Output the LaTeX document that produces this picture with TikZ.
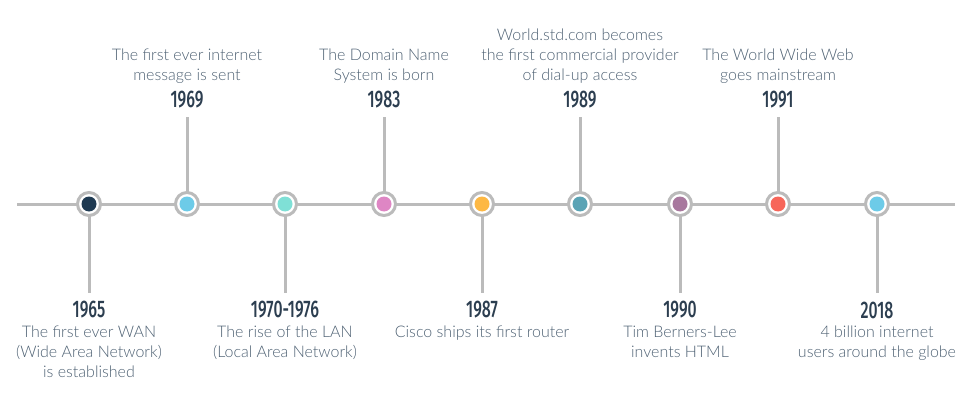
\documentclass[tikz,border=0pt]{standalone}
\usepackage{fontspec}
\newfontfamily\descfont{Lato Light}
\newfontfamily\yearfont[FakeStretch=0.66]{Fira Sans Medium}
\definecolor{tlgray}{HTML}{BBBBBB}
\definecolor{desccol}{HTML}{4E6173}
\definecolor{yearcol}{HTML}{2C3E50}
\definecolor{c1965}{HTML}{1F3A52}
\definecolor{c1969}{HTML}{6DCBE8}
\definecolor{c1970}{HTML}{7FE0D6}
\definecolor{c1983}{HTML}{DE86C4}
\definecolor{c1987}{HTML}{FDB844}
\definecolor{c1989}{HTML}{5AA3B5}
\definecolor{c1990}{HTML}{A8789E}
\definecolor{c1991}{HTML}{F7665A}
\definecolor{c2018}{HTML}{6DCBE8}
\tikzset{
  ring/.style={circle,draw=tlgray,line width=3pt,fill=white,minimum size=23pt,inner sep=0pt},
  dot/.style={circle,fill=#1,minimum size=15pt,inner sep=0pt},
  stem/.style={draw=tlgray,line width=3pt},
  axis/.style={draw=tlgray,line width=3pt},
  desc/.style={font=\descfont\fontsize{16}{20}\selectfont,text=desccol,align=center,inner sep=0pt},
  year/.style={font=\yearfont\fontsize{24}{26}\selectfont,text=yearcol,inner sep=0pt}
}
\begin{document}
\begin{tikzpicture}[x=1pt,y=-1pt]
\useasboundingbox (0,0) rectangle (972,409);
\coordinate (L) at (17,204);
\coordinate (R) at (955,204);
\draw[axis] (L) -- (R);
% events
\foreach \n/\xx in {a/89, b/187, c/285, d/384, e/482, f/580, g/680, h/778, i/877}{
  \coordinate (s\n) at (\xx,204);
}
% up stems
\foreach \n/\xx in {b/187, d/384, f/580, h/778}{
  \coordinate (t\n) at (\xx,117);
  \draw[stem] (s\n) -- (t\n);
}
% down stems
\foreach \n/\xx in {a/89, c/285, e/482, g/680, i/877}{
  \coordinate (t\n) at (\xx,293);
  \draw[stem] (s\n) -- (t\n);
}
\foreach \n/\c in {a/c1965, b/c1969, c/c1970, d/c1983, e/c1987, f/c1989, g/c1990, h/c1991, i/c2018}{
  \node[ring] (r\n) at (s\n) {};
  \node[dot=\c] (d\n) at (s\n) {};
}
% top labels
\node[year] (yb) at (187,100) {1969};
\node[desc,anchor=south] (xb) at (187,84) {The first ever internet\\message is sent};
\node[year] (yd) at (384,100) {1983};
\node[desc,anchor=south] (xd) at (384,84) {The Domain Name\\System is born};
\node[year] (yf) at (580,100) {1989};
\node[desc,anchor=south] (xf) at (580,84) {World.std.com becomes\\the first commercial provider\\of dial-up access};
\node[year] (yh) at (778,100) {1991};
\node[desc,anchor=south] (xh) at (778,84) {The World Wide Web\\goes mainstream};
% bottom labels
\node[year] (ya) at (89,310) {1965};
\node[desc,anchor=north] (xa) at (89,326) {The first ever WAN\\(Wide Area Network)\\is established};
\node[year] (yc) at (285,310) {1970-1976};
\node[desc,anchor=north] (xc) at (285,326) {The rise of the LAN\\(Local Area Network)};
\node[year] (ye) at (482,310) {1987};
\node[desc,anchor=north] (xe) at (482,326) {Cisco ships its first router};
\node[year] (yg) at (680,310) {1990};
\node[desc,anchor=north] (xg) at (680,326) {Tim Berners-Lee\\invents HTML};
\node[year] (yi) at (877,310) {2018};
\node[desc,anchor=north] (xi) at (877,326) {4 billion internet\\users around the globe};
\end{tikzpicture}
\end{document}
